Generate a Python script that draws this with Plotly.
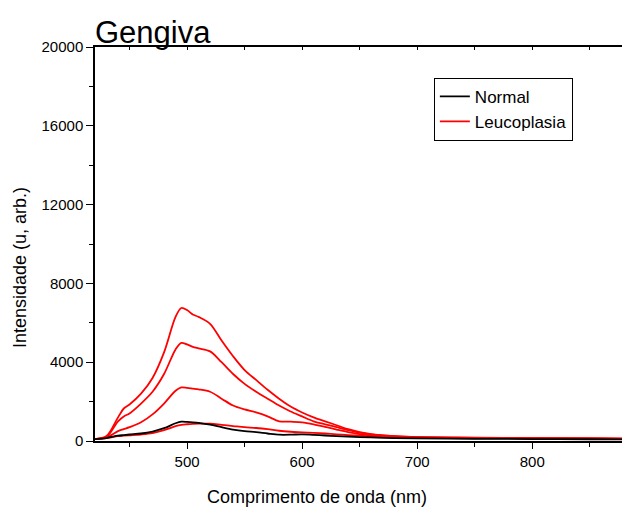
import plotly.graph_objects as go

wl = [420, 430, 440, 445, 450, 460, 470, 480, 490, 495, 500, 505, 510, 520, 530, 540, 550,
      560, 570, 580, 590, 600, 610, 620, 630, 640, 650, 660, 680, 700, 750, 800, 850, 878]

normal = [100, 150, 270, 300, 330, 380, 480, 650, 900, 980, 970, 950, 920, 830, 700, 580, 500,
          450, 380, 320, 320, 340, 310, 280, 250, 220, 200, 180, 150, 130, 110, 100, 90, 80]

leuco_1 = [100, 250, 1200, 1650, 1850, 2400, 3200, 4500, 6300, 6750, 6650, 6420, 6300, 5950, 5100, 4300, 3600,
           3100, 2600, 2150, 1750, 1450, 1200, 1000, 800, 600, 450, 350, 240, 200, 170, 150, 130, 120]
leuco_2 = [100, 200, 1000, 1250, 1400, 1900, 2500, 3400, 4650, 4980, 4900, 4780, 4700, 4550, 4000, 3400, 2900,
           2500, 2150, 1800, 1500, 1250, 1000, 850, 700, 550, 420, 330, 240, 190, 160, 140, 130, 120]
leuco_3 = [100, 180, 500, 600, 700, 950, 1350, 1900, 2550, 2720, 2700, 2660, 2620, 2500, 2150, 1800, 1600,
           1450, 1250, 1000, 980, 950, 850, 720, 580, 450, 350, 280, 220, 180, 150, 140, 130, 120]
leuco_4 = [100, 150, 250, 270, 290, 330, 400, 550, 750, 820, 850, 870, 880, 880, 820, 760, 700,
           660, 600, 520, 470, 440, 410, 380, 340, 300, 270, 240, 200, 170, 140, 130, 120, 110]

RED = "#ff0000"
fig = go.Figure()
for ys in [leuco_4, leuco_3, leuco_2, leuco_1]:
    fig.add_trace(go.Scatter(x=wl, y=ys, mode="lines", line=dict(color=RED, width=1.8, shape="spline", smoothing=0.9),
                             name="Leucoplasia", showlegend=False))
fig.add_trace(go.Scatter(x=wl, y=normal, mode="lines", line=dict(color="black", width=1.8, shape="spline", smoothing=0.9),
                         name="Normal", legendrank=1))
# legend entry for Leucoplasia
fig.add_trace(go.Scatter(x=[None], y=[None], mode="lines", line=dict(color=RED, width=1.8),
                         name="Leucoplasia", legendrank=2))
# top axis carrier
fig.add_trace(go.Scatter(x=[None], y=[None], xaxis="x2", showlegend=False, hoverinfo="skip"))

font = "Liberation Sans, Arial, sans-serif"
fig.update_layout(
    width=622, height=510,
    margin=dict(l=95, r=0, t=47, b=69),
    paper_bgcolor="white", plot_bgcolor="white",
    font=dict(family=font, size=15, color="black"),
    showlegend=True,
    legend=dict(x=0.643, y=0.922, xanchor="left", yanchor="top", bordercolor="black", borderwidth=1,
                font=dict(size=17, family=font), bgcolor="white", tracegroupgap=0,
                itemwidth=30),
    xaxis=dict(range=[420, 878], showgrid=False, zeroline=False, showline=True, linecolor="black", linewidth=1.5,
               ticks="outside", ticklen=6, tickwidth=1.2, tickcolor="black", dtick=100, tick0=0,
               minor=dict(ticks="outside", ticklen=4, dtick=50, tick0=0, tickcolor="black", tickwidth=1.2),
               tickfont=dict(size=15)),
    xaxis2=dict(range=[420, 878], overlaying="x", side="top", showgrid=False, zeroline=False, showline=True,
                linecolor="black", linewidth=1.5, ticks="inside", ticklen=3, tickcolor="black", dtick=50, tick0=0,
                showticklabels=False),
    yaxis=dict(range=[0, 20000], showgrid=False, zeroline=False, showline=True, linecolor="black", linewidth=1.5,
               ticks="outside", ticklen=7, tickwidth=1.2, tickcolor="black", dtick=4000, tickformat="d",
               minor=dict(ticks="outside", ticklen=4, dtick=2000, tickcolor="black", tickwidth=1.2),
               tickfont=dict(size=15)),
    annotations=[
        dict(text="Gengiva", xref="paper", yref="paper", x=0, y=1, xanchor="left", yanchor="bottom",
             xshift=-2, yshift=-5, showarrow=False, font=dict(size=31, family=font)),
        dict(text="Comprimento de onda (nm)", xref="paper", yref="paper", x=0.421, y=0, xanchor="center",
             yanchor="middle", yshift=-56, showarrow=False, font=dict(size=18, family=font)),
        dict(text="Intensidade (u, arb.)", xref="paper", yref="paper", x=0, y=0.439, xanchor="center",
             yanchor="middle", xshift=-75, textangle=-90, showarrow=False, font=dict(size=18, family=font)),
    ],
)
fig.write_html("out.html")
